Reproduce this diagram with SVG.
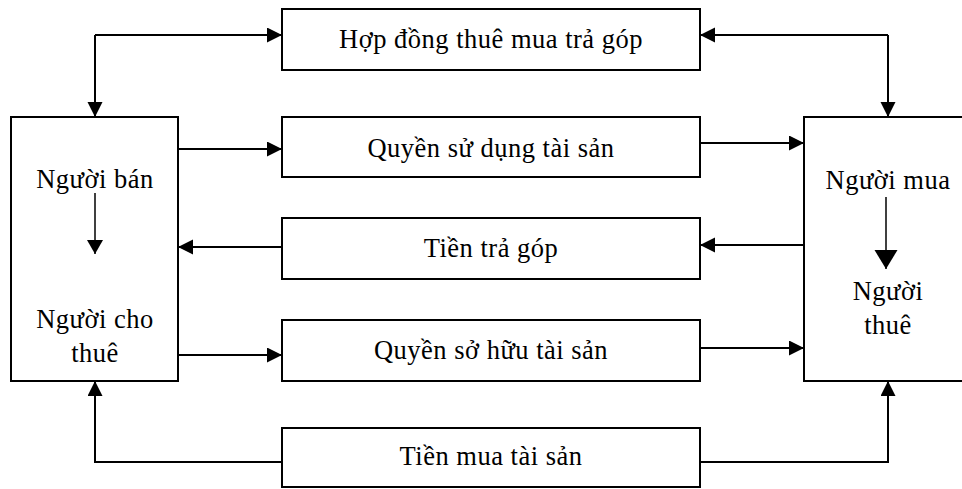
<svg xmlns="http://www.w3.org/2000/svg" width="962" height="489" viewBox="0 0 962 489">
<style>
.box{fill:#fff;stroke:#000;stroke-width:2}
.t{font-family:"Liberation Serif","Times New Roman",serif;font-size:26.5px;letter-spacing:0.5px;fill:#000;text-anchor:middle}
.c{fill:none;stroke:#000;stroke-width:2}
.ci{fill:none;stroke:#000;stroke-width:1.5}
</style>
<defs>
<marker id="ah" markerUnits="userSpaceOnUse" markerWidth="16" markerHeight="16" refX="15" refY="7.5" orient="auto"><path d="M0,0 L15,7.5 L0,15 z" fill="#000"/></marker>
<marker id="ahs" markerUnits="userSpaceOnUse" markerWidth="16" markerHeight="18" refX="14" refY="8" orient="auto"><path d="M0,0 L14,8 L0,16 z" fill="#000"/></marker>
<marker id="ahl" markerUnits="userSpaceOnUse" markerWidth="20" markerHeight="24" refX="19" refY="11.5" orient="auto"><path d="M0,0 L19,11.5 L0,23 z" fill="#000"/></marker>
</defs>
<g id="seller">
<rect class="box" x="11" y="117" width="167" height="264"/>
<text class="t" x="95" y="188">Người bán</text>
<text class="t" x="95" y="328">Người cho</text>
<text class="t" x="95" y="362">thuê</text>
<line class="ci" x1="95" y1="193" x2="95" y2="254" marker-end="url(#ahs)"/>
</g>
<g id="buyer">
<rect class="box" x="804" y="117" width="162" height="264"/>
<text class="t" x="888" y="189">Người mua</text>
<text class="t" x="888" y="300">Người</text>
<text class="t" x="888" y="334">thuê</text>
<line class="ci" x1="886" y1="197" x2="886" y2="269" marker-end="url(#ahl)"/>
</g>
<g id="contract">
<rect class="box" x="282" y="9" width="418" height="61"/>
<text class="t" x="491" y="48">Hợp đồng thuê mua trả góp</text>
</g>
<g id="use-right">
<rect class="box" x="282" y="117" width="418" height="60"/>
<text class="t" x="491" y="157">Quyền sử dụng tài sản</text>
</g>
<g id="installment">
<rect class="box" x="282" y="218" width="418" height="61"/>
<text class="t" x="491" y="257">Tiền trả góp</text>
</g>
<g id="ownership">
<rect class="box" x="282" y="320" width="418" height="61"/>
<text class="t" x="491" y="359">Quyền sở hữu tài sản</text>
</g>
<g id="purchase-money">
<rect class="box" x="282" y="428" width="418" height="59"/>
<text class="t" x="491" y="465">Tiền mua tài sản</text>
</g>
<g id="connectors">
<line class="c" x1="95" y1="35" x2="282" y2="35" marker-end="url(#ah)"/>
<line class="c" x1="95" y1="35" x2="95" y2="117" marker-end="url(#ah)"/>
<line class="c" x1="888" y1="35" x2="700" y2="35" marker-end="url(#ah)"/>
<line class="c" x1="888" y1="35" x2="888" y2="117" marker-end="url(#ah)"/>
<line class="c" x1="178" y1="149" x2="282" y2="149" marker-end="url(#ah)"/>
<line class="c" x1="700" y1="143" x2="804" y2="143" marker-end="url(#ah)"/>
<line class="c" x1="282" y1="247" x2="178" y2="247" marker-end="url(#ah)"/>
<line class="c" x1="804" y1="245" x2="700" y2="245" marker-end="url(#ah)"/>
<line class="c" x1="178" y1="355" x2="282" y2="355" marker-end="url(#ah)"/>
<line class="c" x1="700" y1="348" x2="804" y2="348" marker-end="url(#ah)"/>
<polyline class="c" points="282,462 95,462 95,381" marker-end="url(#ah)"/>
<polyline class="c" points="700,462 888,462 888,381" marker-end="url(#ah)"/>
</g>
</svg>
